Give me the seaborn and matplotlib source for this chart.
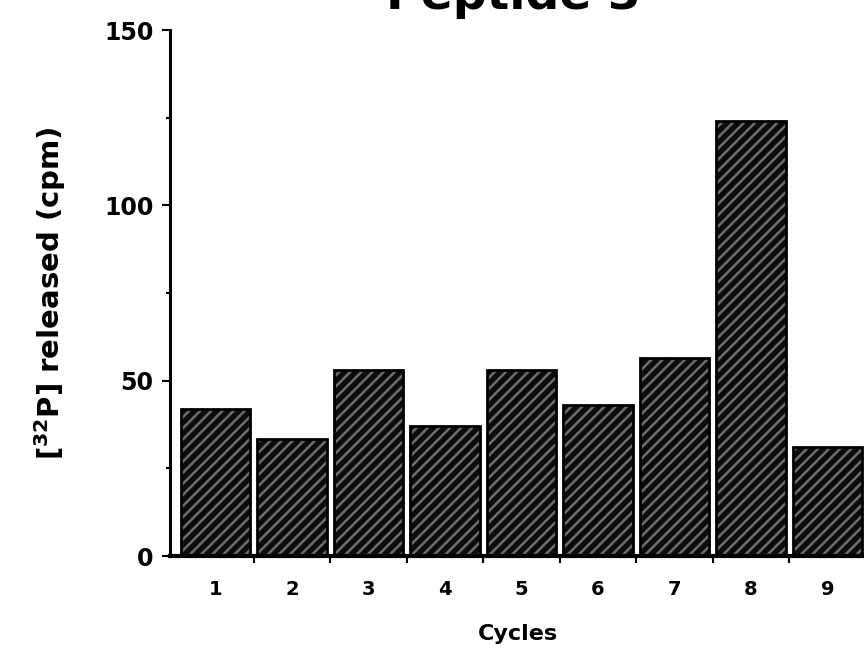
import matplotlib
matplotlib.use("Agg")
import matplotlib.pyplot as plt
import matplotlib.colors as mcolors
import seaborn as sns
import pandas as pd
import numpy as np

cycles = ["1", "2", "3", "4", "5", "6", "7", "8", "9"]
released = [42, 33.5, 53, 37, 53, 43, 56.5, 124, 31]
yticks = [0, 50, 100, 150]
title = "Peptide 3"
xlabel = "Cycles"
ylabel = r"[$^{\mathbf{32}}$P] released (cpm)"

sns.set_style("white")
plt.rcParams["font.family"] = ["DejaVu Sans"]
plt.rcParams["hatch.color"] = "#707070"
plt.rcParams["hatch.linewidth"] = 1.8
plt.rcParams["text.color"] = "black"
plt.rcParams["axes.labelcolor"] = "black"
plt.rcParams["xtick.color"] = "black"
plt.rcParams["ytick.color"] = "black"

df = pd.DataFrame({"cycle": cycles, "cpm": released})

fig = plt.figure(figsize=(8.64, 6.6), dpi=100)
ax = fig.add_axes([170/864, 1-556/660, 1-170/864 + 0.002, (556-30)/660])

sns.barplot(data=df, x="cycle", y="cpm", ax=ax, color="#0c0c0c", width=0.91,
            saturation=1, errorbar=None)
hc = mcolors.to_rgba("#6e6e6e")
for p in ax.patches:
    p.set_edgecolor("#000000")
    p.set_linewidth(2.0)
    p.set_hatch("///")
    p._hatch_color = hc

ax.set_ylim(0, 150)
ax.set_xlim(-0.595, 8.477)
ax.set_yticks(yticks)
ax.set_yticks([25, 75, 125], minor=True)
ax.set_xticks(range(len(cycles)))
ax.set_xticklabels(cycles)
ax.set_xticks(np.arange(0.5, 8.6, 1), minor=True)

for s in ["top", "right"]:
    ax.spines[s].set_visible(False)
ax.spines["left"].set_color("black")
ax.spines["left"].set_linewidth(2.2)
ax.spines["bottom"].set_color("black")
ax.spines["bottom"].set_linewidth(3.0)

ax.tick_params(axis="y", which="major", direction="out", length=6, width=1.5,
               labelsize=17, pad=6, left=True)
ax.tick_params(axis="y", which="minor", direction="out", length=3, width=1.5, left=True)
ax.tick_params(axis="x", which="major", length=0, labelsize=14, pad=17)
ax.tick_params(axis="x", which="minor", direction="out", length=5, width=1.5, bottom=True)
for lab in ax.get_xticklabels() + ax.get_yticklabels():
    lab.set_fontweight("bold")

ax.set_xlabel(xlabel, fontsize=16, fontweight="bold", labelpad=18)
ax.set_ylabel(ylabel, fontsize=21, fontweight="bold", labelpad=26)

fig.text(0.594, 1-9/660, title, fontsize=34, fontweight="bold", ha="center", va="baseline")

fig.savefig("out.png", dpi=100)
